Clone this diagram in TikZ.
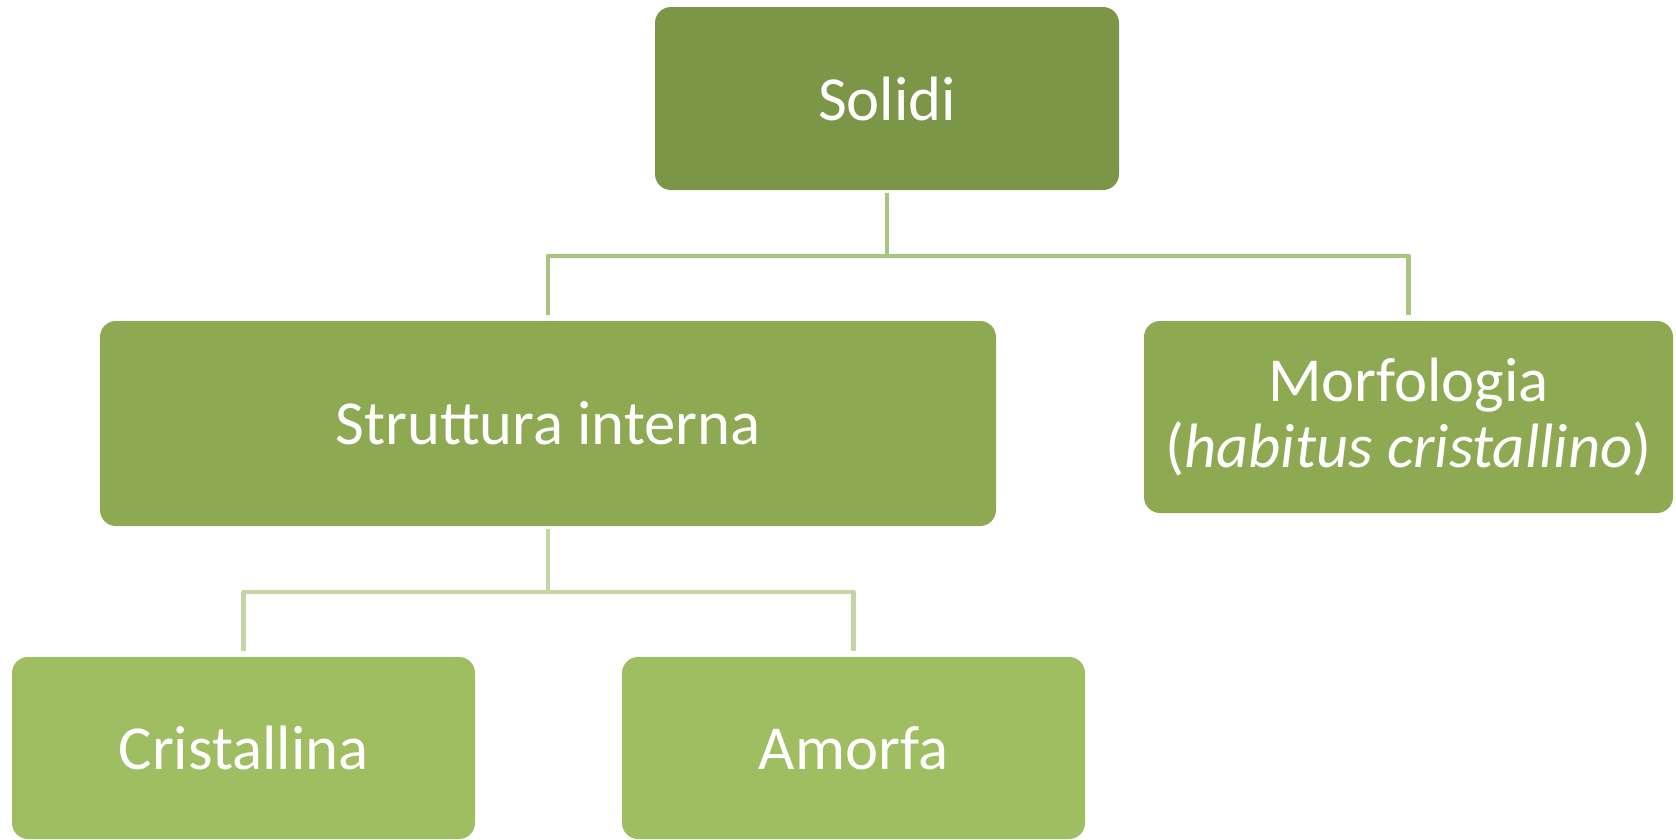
\documentclass[tikz,border=0pt]{standalone}
\usepackage{fontspec}
\setmainfont{Carlito}
\definecolor{darkleaf}{RGB}{124,150,72}
\definecolor{midleaf}{RGB}{141,170,82}
\definecolor{lightleaf}{RGB}{159,189,97}
\definecolor{linkone}{RGB}{169,196,127}
\definecolor{linktwo}{RGB}{195,213,165}
\begin{document}
\begin{tikzpicture}[x=0.75pt,y=-0.75pt]
\tikzstyle{every node}+=[inner sep=0pt]
\tikzstyle{box}=[rounded corners=12pt,text=white,font=\fontsize{47}{57}\selectfont]
\tikzstyle{link}=[line width=3.6pt,line join=round]
\useasboundingbox (0,0) rectangle (1676,839);
\node [box,fill=darkleaf,minimum width=348pt,minimum height=137.25pt] (solidi) at (887,98.5) {Solidi};
\node [box,fill=midleaf,minimum width=672pt,minimum height=153.75pt] (struttura) at (548,423.5) {Struttura interna};
\node [box,fill=midleaf,minimum width=396.75pt,minimum height=144pt,align=center,font=\fontsize{47}{49.5}\selectfont] (morfologia) at (1408.5,417) {Morfologia\\(\textit{habitus cristallino})};
\node [box,fill=lightleaf,minimum width=347.25pt,minimum height=136.5pt] (cristallina) at (243.5,748) {Cristallina};
\node [box,fill=lightleaf,minimum width=347.25pt,minimum height=136.5pt] (amorfa) at (853.5,748) {Amorfa};
\coordinate (bus1) at (887,256);
\coordinate (bus2) at (548,592);
\draw [link,linkone,shorten <=2.25pt,shorten >=4.5pt] (solidi.south) -- (bus1) -| (struttura.north);
\draw [link,linkone,shorten >=4.5pt] (bus1) -| (morfologia.north);
\draw [link,linktwo,shorten <=2.25pt,shorten >=4.5pt] (struttura.south) -- (bus2) -| (cristallina.north);
\draw [link,linktwo,shorten >=4.5pt] (bus2) -| (amorfa.north);
\end{tikzpicture}
\end{document}
